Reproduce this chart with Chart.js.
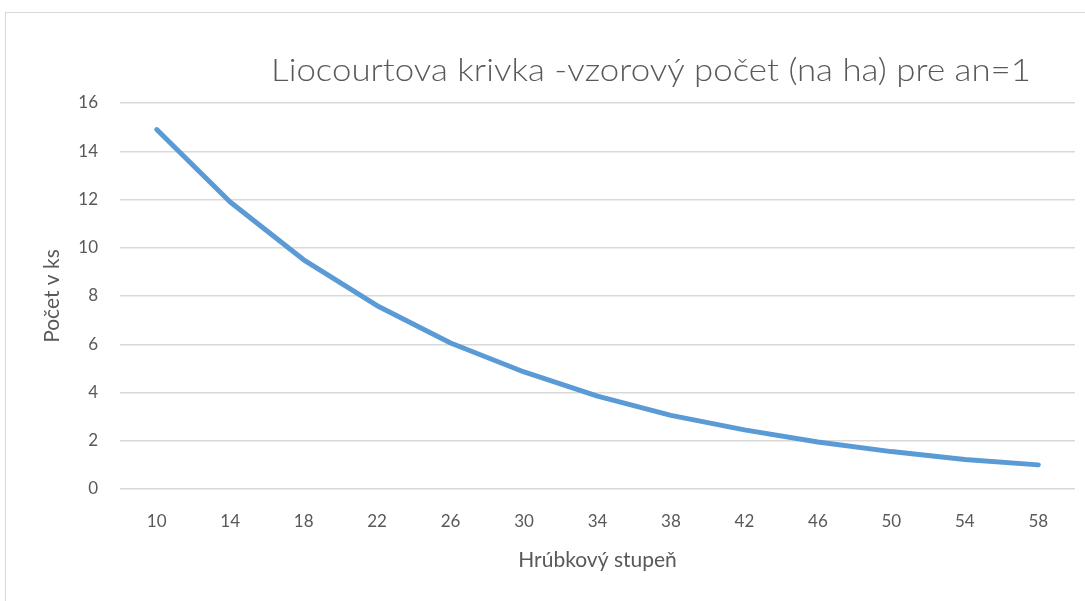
<!DOCTYPE html>
<html>
<head>
<meta charset="utf-8">
<script src="https://cdn.jsdelivr.net/npm/chart.js@4/dist/chart.umd.min.js"></script>
<style>
  body { margin: 0; background: #fff; }
  #wrap { position: relative; width: 1085px; height: 601px; }
  #frame { position: absolute; left: 5px; top: 12px; right: 0; bottom: 0;
           border-left: 1.5px solid #d9d9d9; border-top: 1.5px solid #d9d9d9; }
  canvas { position: absolute; left: 0; top: 0; }
</style>
</head>
<body>
<div id="wrap">
  <div id="frame"></div>
  <canvas id="graf" width="1085" height="601"></canvas>
</div>
<script>
const stupne = ['10','14','18','22','26','30','34','38','42','46','50','54','58']
const pocet = [14.9, 11.9, 9.5, 7.6, 6.05, 4.85, 3.85, 3.05, 2.45, 1.95, 1.55, 1.22, 1.0]
const nadpis = 'Liocourtova krivka -vzorový počet (na ha) pre an=1'

const sivaText = '#595959'
const font = 'Lato'

// nadpis je v originale posunuty doprava, preto ho kreslime sami
const nadpisPlugin = {
    id: 'nadpis',
    afterDraw(chart) {
        const ctx = chart.ctx
        ctx.save()
        ctx.font = '300 32px ' + font
        ctx.fillStyle = sivaText
        ctx.textAlign = 'center'
        ctx.textBaseline = 'alphabetic'
        // sirka nadpisu podla originalu
        const sirka = ctx.measureText(nadpis).width
        const k = 760 / sirka
        ctx.translate(651, 81)
        ctx.scale(k, 1)
        ctx.fillText(nadpis, 0, 0)
        ctx.restore()
    }
}

const config = {
    type: 'line',
    data: {
        labels: stupne,
        datasets: [{
            label: 'Počet',
            data: pocet,
            borderColor: '#5b9bd5',
            backgroundColor: '#5b9bd5',
            borderWidth: 5,
            borderCapStyle: 'round',
            borderJoinStyle: 'round',
            pointRadius: 0,
            tension: 0,
        }],
    },
    options: {
        responsive: false,
        animation: false,
        layout: { padding: { left: 40, right: 10, top: 103, bottom: 28 } },
        plugins: {
            legend: { display: false },
            tooltip: { enabled: false },
        },
        scales: {
            x: {
                offset: true,
                grid: { display: false, drawTicks: false },
                border: { display: false },
                ticks: { color: sivaText, font: { family: font, size: 17 }, padding: 22, maxRotation: 0 },
                title: { display: true, text: 'Hrúbkový stupeň', color: sivaText, font: { family: font, size: 21 }, padding: 0 },
                afterFit(axis) { axis.height = 84 },
            },
            y: {
                min: 0,
                max: 16,
                ticks: { stepSize: 2, color: sivaText, font: { family: font, size: 17 }, padding: 22 },
                grid: { color: '#d9d9d9', lineWidth: 1.5, drawTicks: false },
                border: { display: false },
                title: { display: true, text: 'Počet v ks', color: sivaText, font: { family: font, size: 21 }, padding: 0 },
                afterFit(axis) { axis.width = 80 },
            },
        },
    },
    plugins: [nadpisPlugin],
}

const graf = document.getElementById('graf')
new Chart(graf, config)
</script>
</body>
</html>
